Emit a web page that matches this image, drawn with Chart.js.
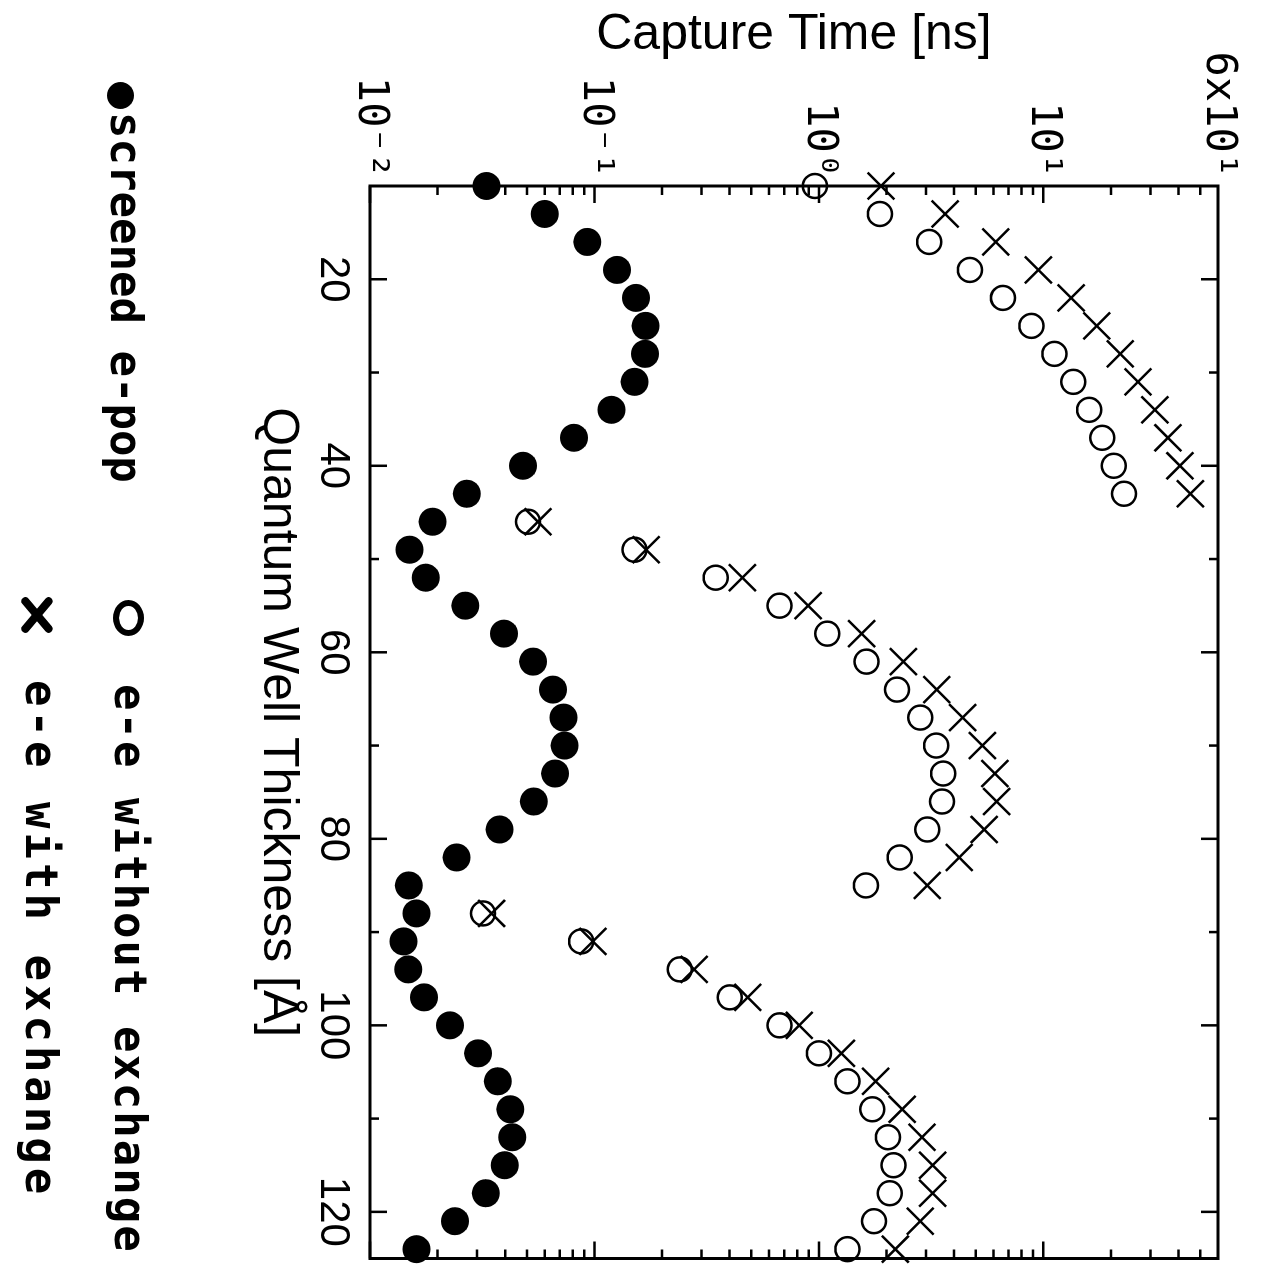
<!DOCTYPE html>
<html>
<head>
<meta charset="utf-8">
<script src="https://cdn.jsdelivr.net/npm/chart.js@4.4.0/dist/chart.umd.min.js"></script>
<style>
  html, body { margin: 0; padding: 0; background: #fff; overflow: hidden; }
  /* the figure is drawn upright, then turned a quarter clockwise like the scan */
  #page { position: absolute; left: 0; top: 0; width: 1280px; height: 1263px;
          transform-origin: 0 0; transform: translate(1263px, 0) rotate(90deg); }
  #plot { position: absolute; left: 0; top: 0; }
  .key { position: absolute; font-family: 'DejaVu Sans Mono', monospace; font-weight: bold;
         font-size: 44px; line-height: 1; color: #000; white-space: pre; transform: translateY(-50%); }
  .dot { position: absolute; width: 27px; height: 27px; border-radius: 50%; background: #000; }
  .ring { position: absolute; width: 24px; height: 19px; border: 6px solid #000; border-radius: 50%; }
  .cross { position: absolute; width: 40px; height: 34px; }
  .cross::before, .cross::after { content: ''; position: absolute; left: -2px; top: 13px; width: 44px; height: 8px;
                                  border-radius: 4px; background: #000; }
  .cross::before { transform: rotate(40deg); }
  .cross::after { transform: rotate(-40deg); }
</style>
</head>
<body>
<div id="page">
  <canvas id="plot" width="1280" height="1263"></canvas>
  <div class="dot" style="left:82px;top:1129px"></div>
  <div class="key" style="left:112px;top:1137px">screened e-pop</div>
  <div class="ring" style="left:600px;top:1119px"></div>
  <div class="key" style="left:684px;top:1133px;letter-spacing:2px">e-e without exchange</div>
  <div class="cross" style="left:595px;top:1209px"></div>
  <div class="key" style="left:680px;top:1222px;letter-spacing:4px">e-e with exchange</div>
</div>
<script>
const thickness = [10, 13, 16, 19, 22, 25, 28, 31, 34, 37, 40, 43, 46, 49, 52, 55, 58, 61, 64, 67,
                   70, 73, 76, 79, 82, 85, 88, 91, 94, 97, 100, 103, 106, 109, 112, 115, 118, 121, 124];

const screenedPop = [0.033, 0.060, 0.093, 0.126, 0.153, 0.169, 0.168, 0.151, 0.119, 0.081,
                     0.048, 0.027, 0.019, 0.015, 0.0177, 0.0266, 0.0395, 0.0533, 0.0653, 0.0728,
                     0.0736, 0.0668, 0.0537, 0.0378, 0.0243, 0.0149, 0.0161, 0.0141, 0.0148, 0.0174,
                     0.0227, 0.0303, 0.0371, 0.0422, 0.0430, 0.0398, 0.0328, 0.0239, 0.0161];

const withoutExchange = [0.96, 1.87, 3.10, 4.71, 6.61, 8.85, 11.2, 13.6, 16.0, 18.3,
                         20.6, 22.9, 0.0506, 0.151, 0.347, 0.668, 1.09, 1.63, 2.23, 2.83,
                         3.33, 3.58, 3.54, 3.04, 2.29, 1.62, 0.0319, 0.0873, 0.240, 0.401,
                         0.668, 1.00, 1.34, 1.73, 2.03, 2.15, 2.07, 1.76, 1.34];

const withExchange = [1.89, 3.65, 6.14, 9.5, 13.3, 17.3, 22.0, 26.4, 31.4, 35.9,
                      40.6, 45.2, 0.056, 0.170, 0.456, 0.895, 1.55, 2.38, 3.35, 4.37,
                      5.35, 6.08, 6.19, 5.45, 4.22, 3.04, 0.0348, 0.0984, 0.278, 0.482,
                      0.817, 1.26, 1.79, 2.35, 2.88, 3.21, 3.21, 2.83, 2.19];

const thicknessTicks = [20, 40, 60, 80, 100, 120];
const timeTicks = [0.01, 0.1, 1, 10, 60];
const timeTickLabels = ['10\u207B\u00B2', '10\u207B\u00B9', '10\u2070', '10\u00B9', '6x10\u00B9'];

Chart.defaults.font.family = "'Liberation Sans', Arial, sans-serif";
Chart.defaults.color = '#000';

const points = vals => thickness.map((t, i) => ({ x: t, y: vals[i] }));

// box round the plot plus inward ticks on all four sides
const axisFrame = {
  id: 'axisFrame',
  beforeDatasetsDraw(chart) {
    const { ctx, chartArea: a, scales: { x, y } } = chart;
    ctx.save();
    ctx.strokeStyle = '#000';
    ctx.lineWidth = 2.5;
    ctx.beginPath();
    for (let t = 20; t <= 120; t += 10) {
      const px = x.getPixelForValue(t);
      const len = t % 20 === 0 ? 17 : 9;
      ctx.moveTo(px, a.bottom); ctx.lineTo(px, a.bottom - len);
      ctx.moveTo(px, a.top); ctx.lineTo(px, a.top + len);
    }
    for (let e = -2; e <= 1; e++) {
      for (let k = 1; k <= 9; k++) {
        const v = k * Math.pow(10, e);
        if (v >= 60) break;
        const py = y.getPixelForValue(v);
        const len = k === 1 ? 17 : 9;
        ctx.moveTo(a.left, py); ctx.lineTo(a.left + len, py);
        ctx.moveTo(a.right, py); ctx.lineTo(a.right - len, py);
      }
    }
    ctx.stroke();
    ctx.lineWidth = 3;
    ctx.strokeRect(a.left, a.top, a.right - a.left, a.bottom - a.top);
    ctx.restore();
  }
};

new Chart(document.getElementById('plot'), {
  type: 'scatter',
  data: {
    datasets: [
      { label: 'screened e-pop', data: points(screenedPop), pointStyle: 'circle', pointRadius: 14,
        backgroundColor: '#000', borderColor: '#000', borderWidth: 0, clip: false },
      { label: 'e-e without exchange', data: points(withoutExchange), pointStyle: 'circle', pointRadius: 12,
        backgroundColor: 'rgba(0,0,0,0)', borderColor: '#000', borderWidth: 2.5, clip: false },
      { label: 'e-e with exchange', data: points(withExchange), pointStyle: 'crossRot', pointRadius: 19,
        borderColor: '#000', borderWidth: 2.5, clip: false }
    ]
  },
  options: {
    responsive: false, animation: false, events: [],
    layout: { padding: { left: 0, top: 45, right: 18, bottom: 248 } },
    plugins: { legend: { display: false }, tooltip: { enabled: false } },
    scales: {
      x: {
        type: 'linear', position: 'bottom', min: 10, max: 125,
        afterBuildTicks: s => { s.ticks = thicknessTicks.map(v => ({ value: v })); },
        afterFit: s => { s.height = 122; },
        grid: { display: false, drawTicks: false }, border: { display: false },
        ticks: { font: { size: 42 }, padding: 12, maxRotation: 0, autoSkip: false },
        title: { display: true, text: 'Quantum Well Thickness [Å]', font: { size: 50 }, padding: 0 }
      },
      y: {
        type: 'logarithmic', position: 'left', min: 0.01, max: 60,
        afterBuildTicks: s => { s.ticks = timeTicks.map(v => ({ value: v })); },
        afterFit: s => { s.width = 186; },
        grid: { display: false, drawTicks: false }, border: { display: false },
        ticks: { font: { family: "'DejaVu Sans Mono', monospace", size: 42 }, padding: 8, autoSkip: false,
                 callback: (v, i) => timeTickLabels[i] },
        title: { display: true, text: 'Capture Time [ns]', font: { size: 50 }, padding: { top: 5, bottom: 0 } }
      }
    }
  },
  plugins: [axisFrame]
});
</script>
</body>
</html>
